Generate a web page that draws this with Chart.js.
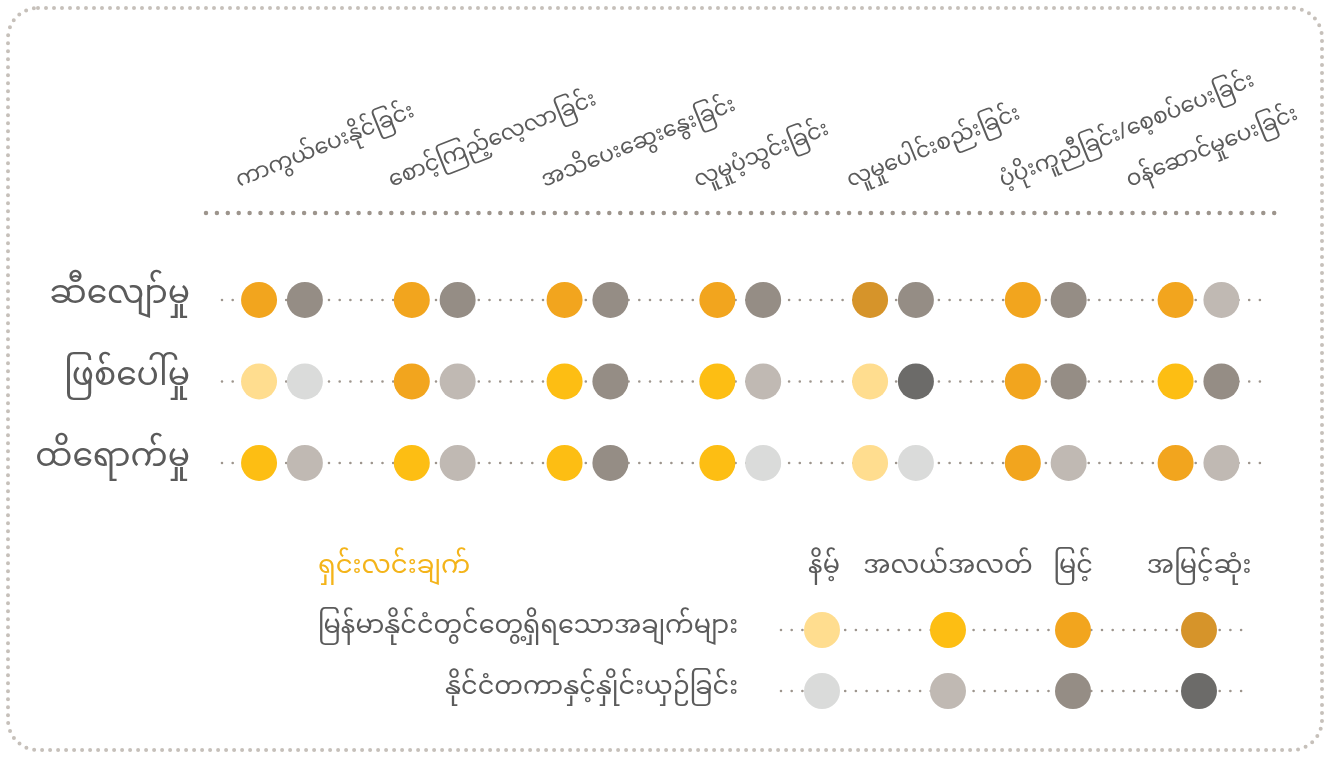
<!DOCTYPE html>
<html>
<head>
<meta charset="utf-8">
<script src="https://cdn.jsdelivr.net/npm/chart.js@4/dist/chart.umd.min.js"></script>
<style>
  html, body { margin: 0; padding: 0; background: #fff; }
  #wrap { width: 1330px; height: 758px; position: relative; }
</style>
</head>
<body>
<div id="wrap"><canvas id="chart" width="1330" height="758"></canvas></div>
<script>
// Spalten (Tätigkeitsbereiche)
const columns = [
  'ကာကွယ်ပေးနိုင်ခြင်း',
  'စောင့်ကြည့်လေ့လာခြင်း',
  'အသိပေးဆွေးနွေးခြင်း',
  'လူမှုပံ့သွင်းခြင်း',
  'လူမှုပေါင်းစည်းခြင်း',
  'ပံ့ပိုးကူညီခြင်း/စေ့စပ်ပေးခြင်း',
  'ဝန်ဆောင်မှုပေးခြင်း'
];
// Zeilen (Kriterien)
const rows = ['ဆီလျော်မှု', 'ဖြစ်ပေါ်မှု', 'ထိရောက်မှု'];
// Stufen 1..4
const levels = ['နိမ့်', 'အလယ်အလတ်', 'မြင့်', 'အမြင့်ဆုံး'];
const legendTitle = 'ရှင်းလင်းချက်';
const seriesNames = ['မြန်မာနိုင်ငံတွင်တွေ့ရှိရသောအချက်များ', 'နိုင်ငံတကာနှင့်နှိုင်းယှဉ်ခြင်း'];

// Werte je Zeile, je Spalte (1 = niedrig ... 4 = am höchsten)
const myanmarLevels = [
  [3, 3, 3, 3, 4, 3, 3],
  [1, 3, 2, 2, 1, 3, 2],
  [2, 2, 2, 2, 1, 3, 3]
];
const intlLevels = [
  [3, 3, 3, 3, 3, 3, 2],
  [1, 2, 3, 2, 4, 3, 3],
  [2, 2, 3, 1, 1, 2, 2]
];

const yellowShades = ['#FFDD8F', '#FDBE13', '#F2A51E', '#D6942A'];
const greyShades = ['#DADBDA', '#C0B9B3', '#958D85', '#6C6B69'];

const FONT = '"Noto Sans Myanmar", "Padauk", "Myanmar Text", "Noto Sans", sans-serif';
const TEXT = '#5b5b5b';
const PAIR_OFF = 0.15;

// Punkte aufbauen
function buildPoints(table, off) {
  const pts = [];
  table.forEach((r, ri) => r.forEach((v, ci) => pts.push({ x: ci + off, y: ri, level: v })));
  return pts;
}
const myPts = buildPoints(myanmarLevels, -PAIR_OFF);
const inPts = buildPoints(intlLevels, PAIR_OFF);

function dotted(ctx, x1, y1, x2, y2, gap, width, color) {
  ctx.save();
  ctx.strokeStyle = color;
  ctx.lineWidth = width;
  ctx.lineCap = 'round';
  ctx.setLineDash([0, gap]);
  ctx.beginPath();
  ctx.moveTo(x1, y1);
  ctx.lineTo(x2, y2);
  ctx.stroke();
  ctx.restore();
}

function circle(ctx, x, y, r, color) {
  ctx.beginPath();
  ctx.arc(x, y, r, 0, Math.PI * 2);
  ctx.fillStyle = color;
  ctx.fill();
}

const decoPlugin = {
  id: 'deco',
  beforeDatasetsDraw(chart) {
    const ctx = chart.ctx;
    const xs = chart.scales.x, ys = chart.scales.y;

    // Rahmen (gepunktet, abgerundet)
    ctx.save();
    ctx.strokeStyle = '#c6c0ba';
    ctx.lineWidth = 4;
    ctx.lineCap = 'round';
    ctx.setLineDash([0, 8]);
    ctx.beginPath();
    ctx.roundRect(8, 8, 1314, 742, 30);
    ctx.stroke();
    ctx.restore();

    // Trennlinie unter den Spaltenköpfen
    dotted(ctx, 206, 213, 1275, 213, 10.9, 4.5, '#9d958d');

    // Zeilenlinien
    rows.forEach((r, i) => {
      const y = ys.getPixelForValue(i);
      dotted(ctx, 222, y, 1262, y, 10.7, 2.6, '#9d958d');
    });

    // Zeilenbeschriftungen
    ctx.save();
    ctx.fillStyle = TEXT;
    ctx.font = '33px ' + FONT;
    ctx.textAlign = 'right';
    ctx.textBaseline = 'middle';
    rows.forEach((r, i) => ctx.fillText(r, 190, ys.getPixelForValue(i)));
    ctx.restore();

    // Spaltenköpfe (gedreht)
    ctx.save();
    ctx.fillStyle = TEXT;
    ctx.font = '22px ' + FONT;
    ctx.textAlign = 'left';
    ctx.textBaseline = 'alphabetic';
    columns.forEach((c, i) => {
      const x = xs.getPixelForValue(i - PAIR_OFF) - (i === columns.length - 1 ? 46 : 20);
      ctx.save();
      ctx.translate(x, 187);
      ctx.rotate(-22 * Math.PI / 180);
      ctx.fillText(c, 0, 0);
      ctx.restore();
    });
    ctx.restore();

    // Legende
    const lx = [822, 948, 1073, 1199];
    const ly = [630, 691];
    ctx.save();
    ctx.textBaseline = 'middle';
    ctx.font = '26px ' + FONT;
    ctx.fillStyle = '#F4B41A';
    ctx.textAlign = 'left';
    ctx.fillText(legendTitle, 318, 570);
    ctx.font = '25.5px ' + FONT;
    ctx.fillStyle = TEXT;
    ctx.textAlign = 'center';
    levels.forEach((l, i) => ctx.fillText(l, lx[i] + (i === 0 ? 2 : 0), 570));
    ctx.textAlign = 'right';
    seriesNames.forEach((s, i) => ctx.fillText(s, 738, ly[i]));
    ctx.restore();
    [yellowShades, greyShades].forEach((shades, si) => {
      dotted(ctx, 781, ly[si], 1248, ly[si], 10.7, 2.6, '#9d958d');
      shades.forEach((col, i) => circle(ctx, lx[i], ly[si], 18, col));
    });
  }
};

new Chart(document.getElementById('chart'), {
  type: 'scatter',
  data: {
    datasets: [
      {
        label: seriesNames[0],
        data: myPts,
        pointRadius: 18,
        pointHoverRadius: 18,
        pointBorderWidth: 0,
        pointBackgroundColor: myPts.map(p => yellowShades[p.level - 1])
      },
      {
        label: seriesNames[1],
        data: inPts,
        pointRadius: 18,
        pointHoverRadius: 18,
        pointBorderWidth: 0,
        pointBackgroundColor: inPts.map(p => greyShades[p.level - 1])
      }
    ]
  },
  options: {
    responsive: false,
    animation: false,
    events: [],
    layout: { padding: 0 },
    plugins: { legend: { display: false }, tooltip: { enabled: false } },
    scales: {
      x: { type: 'linear', display: false, min: -1.728, max: 6.743 },
      y: { type: 'linear', display: false, reverse: true, min: -3.460, max: 5.399 }
    }
  },
  plugins: [decoPlugin]
});
</script>
</body>
</html>
